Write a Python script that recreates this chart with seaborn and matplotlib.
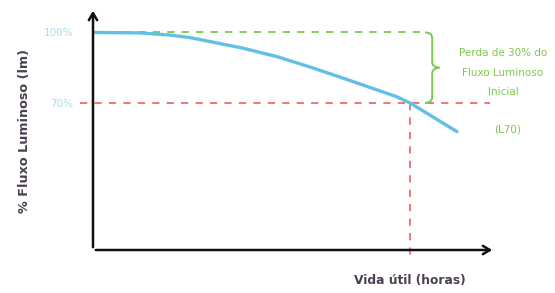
import numpy as np
import pandas as pd
import matplotlib
matplotlib.use('Agg')
import matplotlib.pyplot as plt
from matplotlib.path import Path
from matplotlib.patches import PathPatch
import seaborn as sns

# Datos de la curva (vida útil normalizada 0-100, % flujo luminoso)
horas = [0.5, 11.75, 19.25, 24.25, 30.5, 37.5, 46, 54.25, 61.75, 69.25, 76, 79.25, 91]
fluxo = [100, 99.8, 98.9, 97.8, 95.7, 93.3, 89.7, 85.3, 81.0, 76.6, 72.6, 70, 57.8]
y_ticks = [70, 100]
y_tick_labels = ['70%', '100%']
l70_horas = 79.25
nivel_inicial = 100
nivel_l70 = 70

sns.set_style('white')
plt.rcParams['font.family'] = ['DejaVu Sans']

df = pd.DataFrame({'horas': horas, 'fluxo': fluxo})

fig = plt.figure(figsize=(5.55, 2.93), dpi=100)
ax = fig.add_axes([93 / 555, 43 / 293, 400 / 555, 242 / 293])

sns.lineplot(data=df, x='horas', y='fluxo', ax=ax, color='#62bfe6', linewidth=2.4)

ax.set_xlim(0, 100)
ax.set_ylim(7.45, 110.4)

# Líneas de referencia
ax.plot([-3.25, 99.25], [nivel_l70, nivel_l70], color='#ee6b6b', ls=(0, (4, 4)),
        lw=1.3, clip_on=False, zorder=1)
ax.plot([0.5, 83], [nivel_inicial, nivel_inicial], color='#7cc850', ls=(0, (4, 4)),
        lw=1.3, clip_on=False, zorder=1)
ax.plot([l70_horas, l70_horas], [nivel_l70, 4.5], color='#ee6b6b', ls=(0, (4, 4)),
        lw=1.3, clip_on=False, zorder=1)

# Llave verde
x0, w = 83, 3.6
ymid = (nivel_inicial + nivel_l70) / 2
r = 2.5
verts = [(x0, nivel_inicial), (x0 + w / 2, nivel_inicial), (x0 + w / 2, nivel_inicial - r),
         (x0 + w / 2, ymid + r),
         (x0 + w / 2, ymid), (x0 + w, ymid), (x0 + w, ymid),
         (x0 + w, ymid), (x0 + w / 2, ymid), (x0 + w / 2, ymid - r),
         (x0 + w / 2, nivel_l70 + r),
         (x0 + w / 2, nivel_l70), (x0, nivel_l70), (x0, nivel_l70)]
codes = [Path.MOVETO, Path.CURVE3, Path.CURVE3, Path.LINETO,
         Path.CURVE4, Path.CURVE4, Path.CURVE4,
         Path.CURVE4, Path.CURVE4, Path.CURVE4,
         Path.LINETO, Path.CURVE4, Path.CURVE4, Path.CURVE4]
ax.add_patch(PathPatch(Path(verts, codes), fill=False, ec='#7cc850', lw=1.4, clip_on=False))

ax.text(102.5, ymid - 2.2, 'Perda de 30% do\nFluxo Luminoso\nInicial', color='#7cc850',
        fontsize=7.5, ha='center', va='center', linespacing=2.2, clip_on=False)
ax.text(103.7, 58.5, '(L70)', color='#7cc850', fontsize=7.5, ha='center', va='center')

# Ejes con flechas
sns.despine(ax=ax, left=True, bottom=True)
ax.annotate('', xy=(0, 1), xytext=(0, 0), xycoords='axes fraction',
            arrowprops=dict(arrowstyle='->,head_length=0.5,head_width=0.3', lw=1.8, color='#111111'))
ax.annotate('', xy=(1.005, 0), xytext=(0, 0), xycoords='axes fraction',
            arrowprops=dict(arrowstyle='->,head_length=0.5,head_width=0.3', lw=1.8, color='#111111'))

ax.set_xticks([])
ax.set_yticks(y_ticks)
ax.set_yticklabels(y_tick_labels, color='#a6dcea', fontsize=7.5)
ax.tick_params(axis='y', length=0, pad=14)

ax.set_xlabel('Vida útil (horas)', color='#4a3f4f', fontsize=8.8, fontweight='semibold')
ax.xaxis.set_label_coords(l70_horas / 100, -0.1)
ax.set_ylabel('% Fluxo Luminoso (lm)', color='#4a3f4f', fontsize=9.2, fontweight='semibold')
ax.yaxis.set_label_coords(-0.155, 0.49)

fig.savefig('out.png', dpi=100)
